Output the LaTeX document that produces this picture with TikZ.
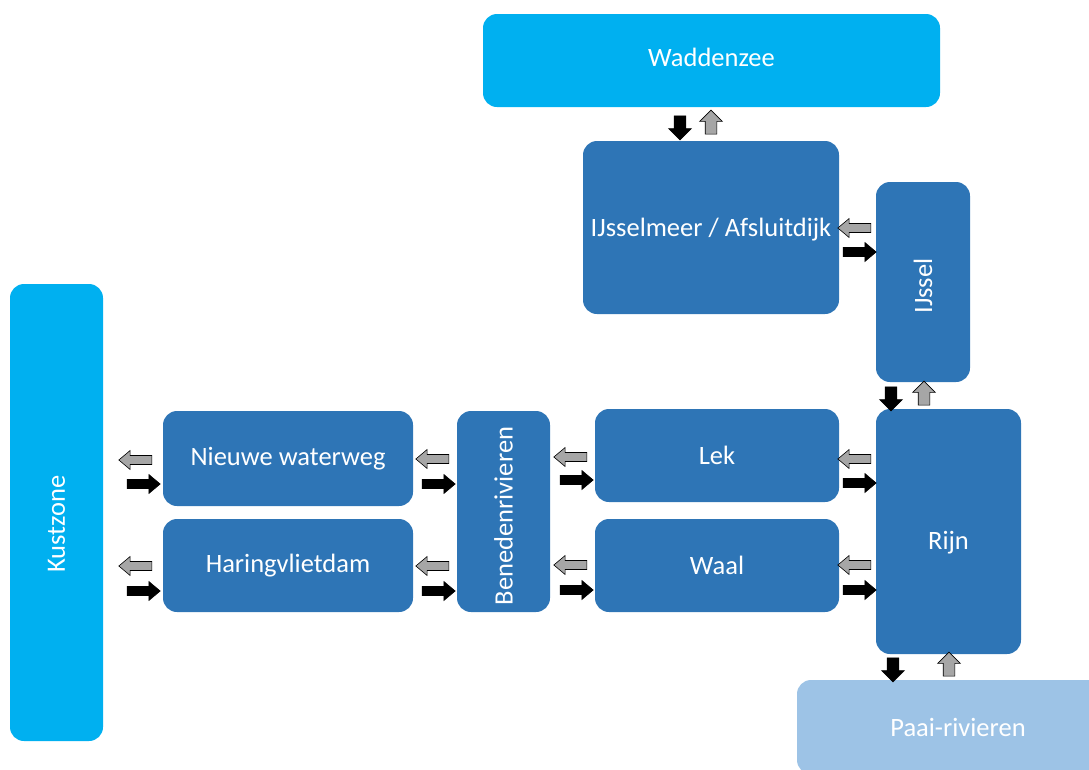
\documentclass[tikz,border=0pt]{standalone}
\usepackage{fontspec}
\setmainfont{Carlito}
\usetikzlibrary{shapes.arrows}
\definecolor{zeeblue}{HTML}{00B0F0}
\definecolor{riverblue}{HTML}{2E75B6}
\definecolor{paaiblue}{HTML}{9DC3E6}
\definecolor{backgray}{HTML}{A6A6A6}

\begin{document}
\begin{tikzpicture}[x=1pt,y=-1pt,
    box/.style={rectangle,rounded corners=14pt,fill=riverblue,text=white,
      inner sep=0pt,font=\fontsize{26.5}{31}\selectfont},
    boxstring/.style={white,inner sep=0pt,font=\fontsize{26.5}{31}\selectfont},
    harrow/.style={single arrow,inner xsep=0pt,inner ysep=4.2pt,minimum height=33pt,
      single arrow head extend=5pt,single arrow tip angle=80,line width=0.6pt},
    varrow/.style={single arrow,inner xsep=0pt,inner ysep=5.5pt,minimum height=24pt,
      single arrow head extend=5.5pt,line width=0.6pt},
    forth/.style={fill=black,draw=black},
    back/.style={fill=backgray,draw=black}]

    \useasboundingbox (0,0) rectangle (1089,769);
    \clip (0,0) rectangle (1089,769);

    %%water bodies
    \node[box,fill=zeeblue,minimum width=457pt,minimum height=93pt] (waddenzee) at (711.5,60.5) {};
    \node[boxstring] (waddenzeestring) at (711.5,57) {Waddenzee};
    \node[box,fill=zeeblue,minimum width=93pt,minimum height=457pt] (kustzone) at (56.5,512.5) {};
    \node[boxstring,rotate=90] (kustzonestring) at (56.5,524) {Kustzone};
    \node[box,fill=paaiblue,minimum width=322pt,minimum height=94pt] (paai) at (958,727) {};
    \node[boxstring] (paaistring) at (958,727) {Paai-rivieren};

    %%rivers
    \node[box,minimum width=256pt,minimum height=173pt] (ijsselmeer) at (711,227.5) {};
    \node[boxstring] (ijsselmeerstring) at (711,230) {IJsselmeer / Afsluitdijk};
    \node[box,minimum width=94pt,minimum height=200pt] (ijssel) at (923,282) {};
    \node[boxstring,rotate=90] (ijsselstring) at (923,286) {IJssel};
    \node[box,minimum width=250pt,minimum height=95pt] (nieuwewaterweg) at (288,458.5) {Nieuwe waterweg};
    \node[box,minimum width=250pt,minimum height=93pt] (haringvliet) at (288,565.5) {Haringvlietdam};
    \node[box,minimum width=93pt,minimum height=201pt] (beneden) at (503.5,511.5) {};
    \node[boxstring,rotate=90] (benedenstring) at (503.5,516) {Benedenrivieren};
    \node[box,minimum width=244pt,minimum height=93pt] (lek) at (717,455.5) {Lek};
    \node[box,minimum width=244pt,minimum height=93pt] (waal) at (717,565.5) {Waal};
    \node[box,minimum width=145pt,minimum height=245pt] (rijn) at (948.5,531.5) {};
    \node[boxstring] (rijnstring) at (948.5,543) {Rijn};

    %%exchange arrows
    \node[varrow,forth,rotate=-90] (down1) at (680,125) {};
    \node[varrow,back,rotate=90] (up1) at (711,125) {};
    \node[harrow,back,rotate=180] (left1) at (857,228) {};
    \node[harrow,forth] (right1) at (857,252) {};
    \node[varrow,forth,rotate=-90] (down2) at (891,396) {};
    \node[varrow,back,rotate=90] (up2) at (924,396) {};
    \node[varrow,forth,rotate=-90] (down3) at (893,667) {};
    \node[varrow,back,rotate=90] (up3) at (949,667) {};

    \node[harrow,back,rotate=180] (left2) at (138,460) {};
    \node[harrow,forth] (right2) at (141,484) {};
    \node[harrow,back,rotate=180] (left3) at (435,459) {};
    \node[harrow,forth] (right3) at (436,484) {};
    \node[harrow,back,rotate=180] (left4) at (573,457) {};
    \node[harrow,forth] (right4) at (574,480) {};
    \node[harrow,back,rotate=180] (left5) at (857,459) {};
    \node[harrow,forth] (right5) at (857,483) {};

    \node[harrow,back,rotate=180] (left6) at (138,566) {};
    \node[harrow,forth] (right6) at (141,591) {};
    \node[harrow,back,rotate=180] (left7) at (435,566) {};
    \node[harrow,forth] (right7) at (436,591) {};
    \node[harrow,back,rotate=180] (left8) at (573,565) {};
    \node[harrow,forth] (right8) at (574,590) {};
    \node[harrow,back,rotate=180] (left9) at (857,565) {};
    \node[harrow,forth] (right9) at (857,590) {};

\end{tikzpicture}
\end{document}
